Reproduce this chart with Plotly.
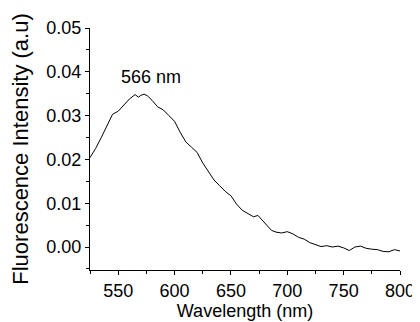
import plotly.graph_objects as go

wavelength = [525, 530, 535, 540, 545, 550, 555, 560, 565, 568, 570, 573, 576, 580, 585, 590, 595, 600,
              605, 610, 615, 620, 625, 630, 635, 640, 645, 650, 655, 660, 665, 670, 674, 678, 682, 686,
              690, 695, 700, 705, 710, 715, 720, 725, 730, 735, 740, 745, 750, 755, 760, 765, 770, 775,
              780, 785, 790, 795, 800]
intensity = [0.0204, 0.0225, 0.0250, 0.0278, 0.0303, 0.0310, 0.0325, 0.0338, 0.0348, 0.0342, 0.0346,
             0.0349, 0.0345, 0.0335, 0.0320, 0.0313, 0.0300, 0.0287, 0.0262, 0.0240, 0.0228, 0.0216,
             0.0192, 0.0172, 0.0153, 0.0140, 0.0127, 0.0117, 0.0098, 0.0084, 0.0076, 0.0069, 0.0072,
             0.0060, 0.0050, 0.0038, 0.0034, 0.0032, 0.0035, 0.0030, 0.0022, 0.0018, 0.0010, 0.0006,
             0.0001, 0.0003, 0.0000, 0.0002, -0.0002, -0.0008, 0.0000, 0.0002, -0.0003, -0.0005,
             -0.0006, -0.0010, -0.0011, -0.0006, -0.0009]

peak_label = "566 nm"
peak_label_pos = (579, 0.0389)

FONT = "Arial, Liberation Sans, sans-serif"

fig = go.Figure()
fig.add_trace(go.Scatter(x=wavelength, y=intensity, mode="lines",
                         line=dict(color="black", width=1), showlegend=False))

fig.add_annotation(x=peak_label_pos[0], y=peak_label_pos[1], text=peak_label, showarrow=False,
                   font=dict(family=FONT, size=18, color="black"))

# page body has an 8px default margin; size the figure so it fits the 420x322 window
fig.update_layout(
    width=412, height=314,
    margin=dict(l=82, r=20, t=20, b=52),
    paper_bgcolor="white", plot_bgcolor="white",
    font=dict(family=FONT, size=18, color="black"),
)
fig.update_xaxes(range=[525, 800], tick0=550, dtick=50, showgrid=False, zeroline=False,
                 showline=True, linecolor="black", linewidth=1, automargin=False,
                 ticks="outside", ticklen=4, tickcolor="black", tickfont=dict(size=18),
                 minor=dict(dtick=25, tick0=550, ticks="outside", ticklen=3, tickcolor="black"),
                 title=dict(text="Wavelength (nm)", standoff=2, font=dict(size=18)))
fig.update_yaxes(range=[-0.00525, 0.05], dtick=0.01, tick0=0, tickformat=".2f", showgrid=False,
                 zeroline=False, showline=True, linecolor="black", linewidth=1, automargin=False,
                 ticks="outside", ticklen=4, tickcolor="black", tickfont=dict(size=18),
                 minor=dict(dtick=0.005, tick0=0, ticks="outside", ticklen=3, tickcolor="black"),
                 title=dict(text="Fluorescence Intensity (a.u)", standoff=12, font=dict(size=22)))

fig.write_html("out.html")
